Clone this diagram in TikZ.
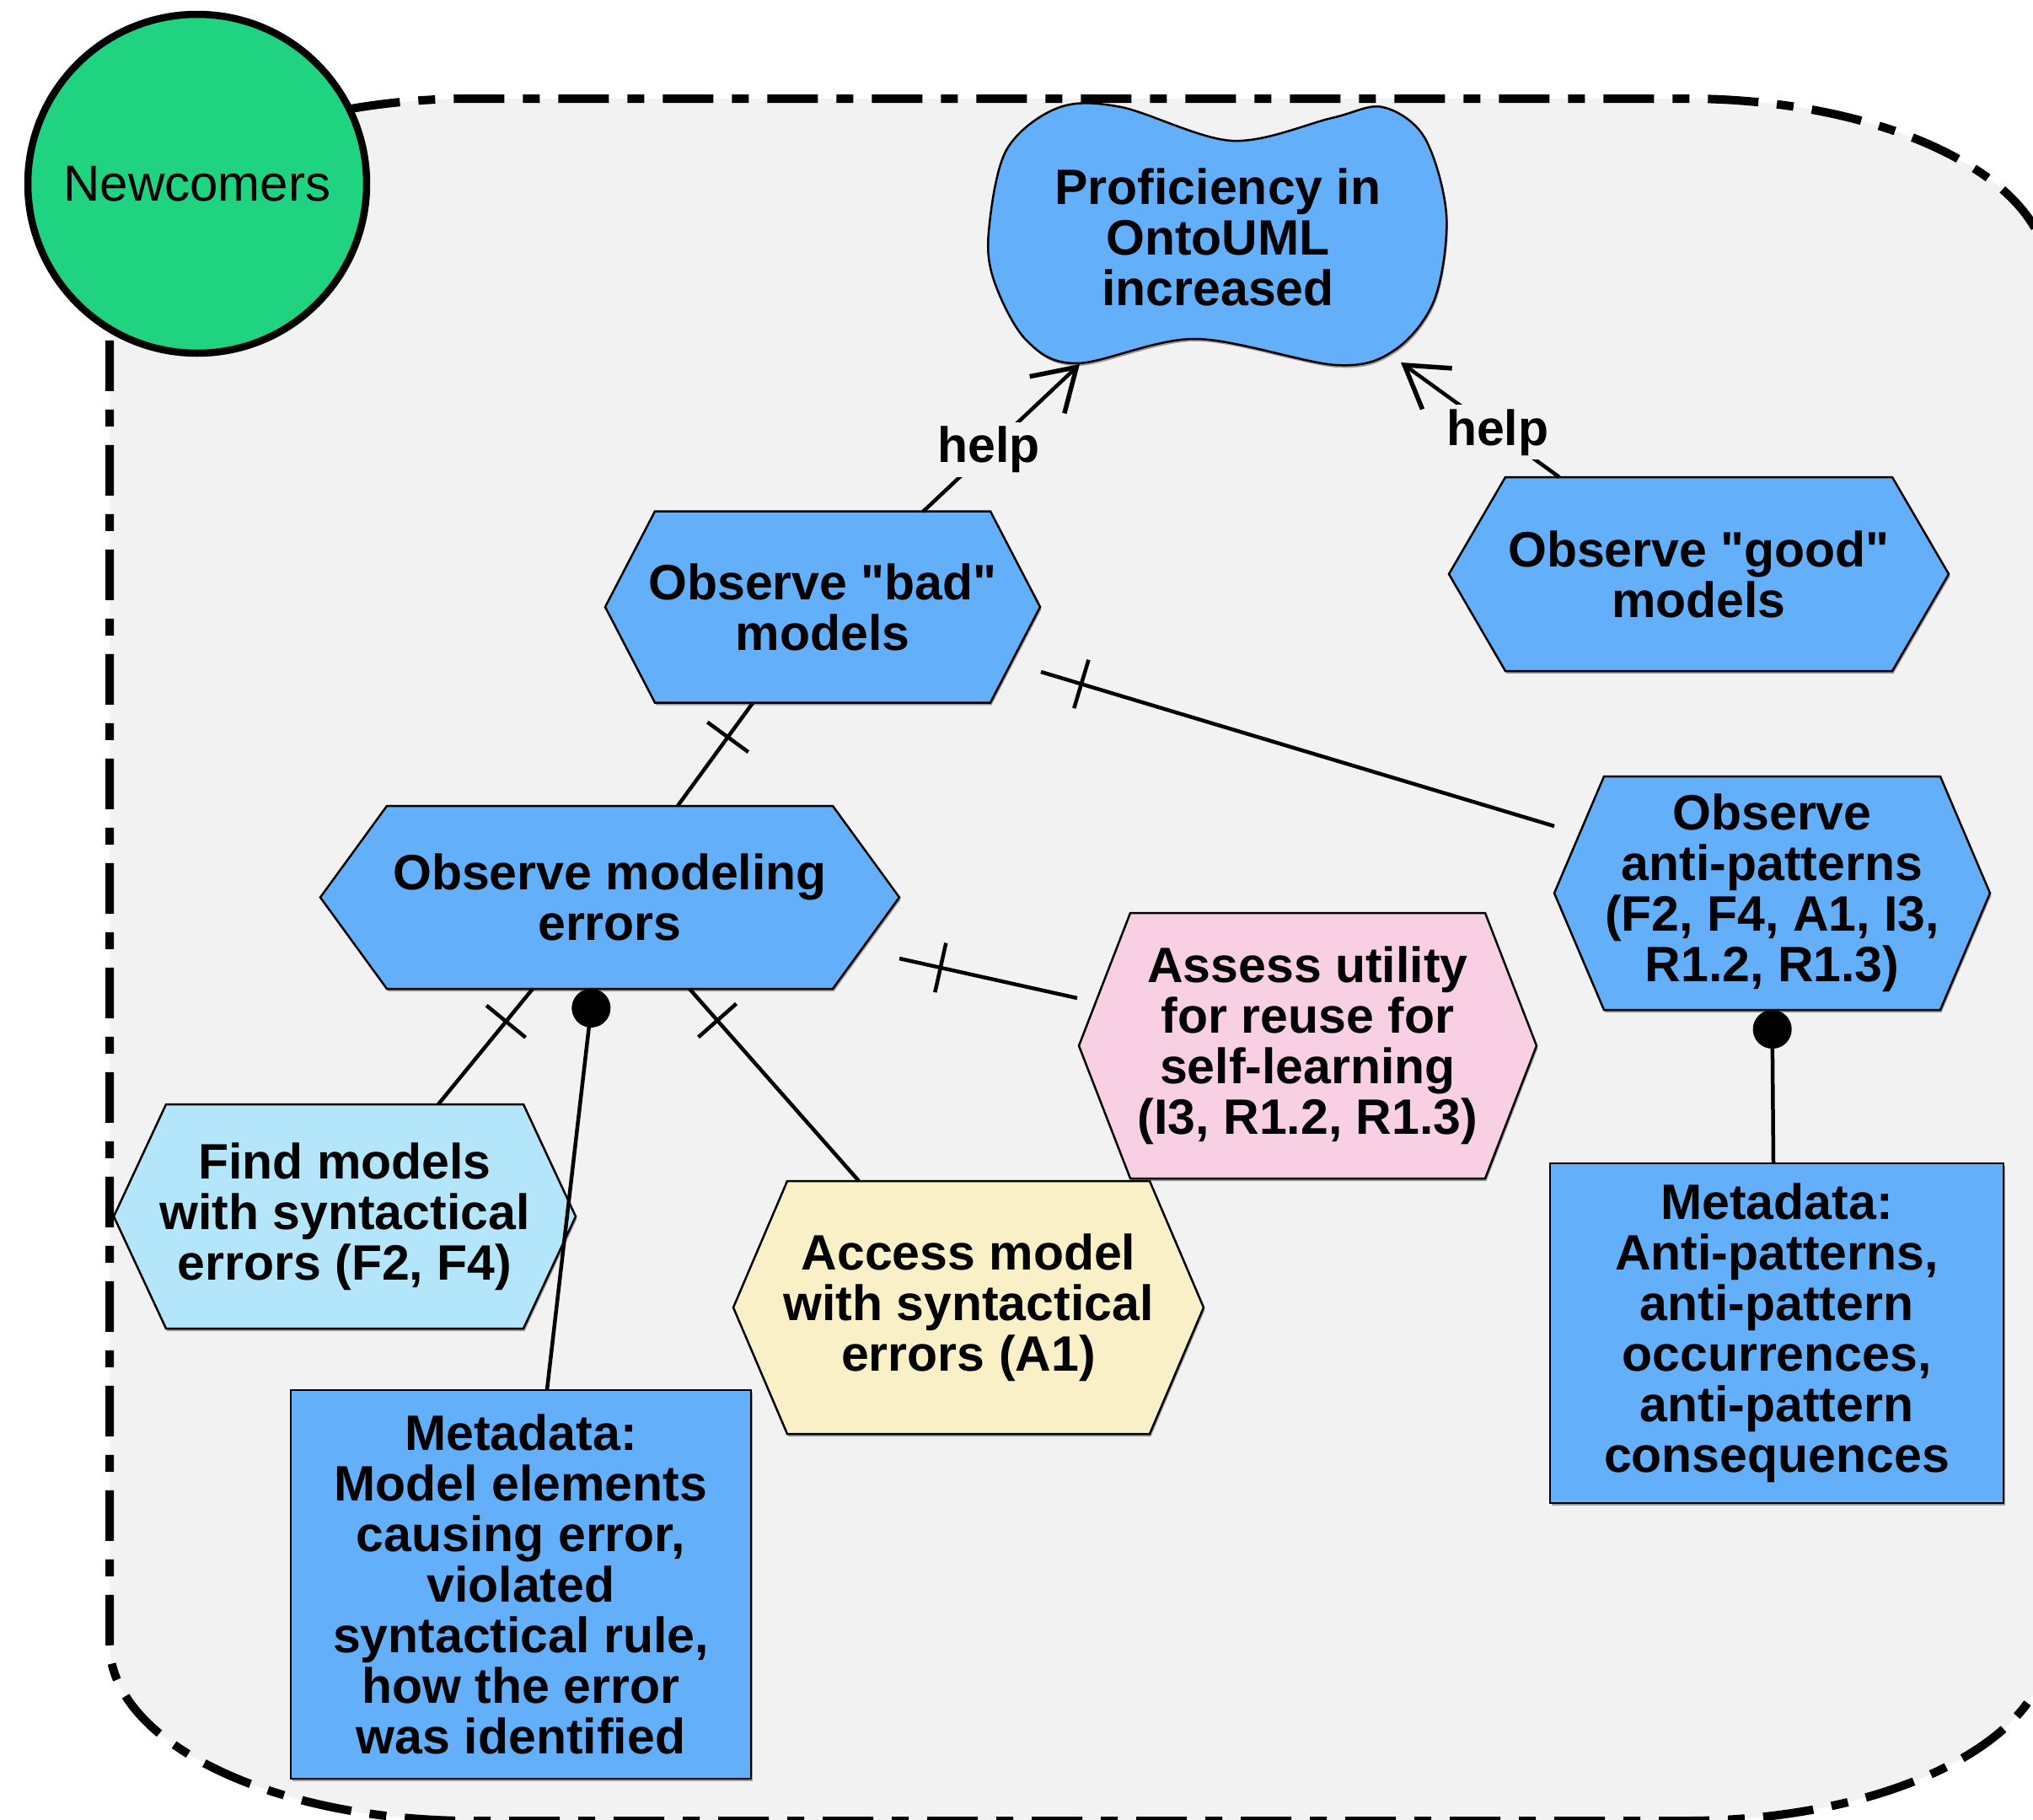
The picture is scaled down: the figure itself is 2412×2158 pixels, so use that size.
\documentclass[tikz,border=0pt]{standalone}
\usepackage{fontspec}
\setmainfont{Liberation Sans}[Ligatures=TeXOff]
\usetikzlibrary{arrows.meta, decorations.markings, shadows}

\definecolor{panelgray}{HTML}{F2F2F2}
\definecolor{crowdgreen}{HTML}{20D381}
\definecolor{goalblue}{HTML}{63AFF9}
\definecolor{paleblue}{HTML}{B3E5FB}
\definecolor{paleyellow}{HTML}{FAF0C8}
\definecolor{palepink}{HTML}{F9CFE4}

\tikzset{
  shapeline/.style={draw=black, line width=2.5pt, line join=miter},
  softshadow/.style={drop shadow={shadow xshift=1.5pt, shadow yshift=-3pt, opacity=0.35, fill=black}},
  boldtxt/.style={align=center, inner sep=0pt, font=\fontsize{59}{60}\selectfont\bfseries},
  conn/.style={draw=black, line width=4.5pt},
  onetick/.style={postaction={decorate},
    decoration={markings, mark=at position 50pt with {\draw[line width=4.5pt] (0pt,-30pt) -- (0pt,30pt);}}},
  dotend/.style={-{Circle[length=46pt,width=46pt]}},
  helparrow/.style={conn, -{Straight Barb[length=48pt,width=60pt,line width=5.5pt]}},
  helplabel/.style={fill=panelgray, inner sep=5pt, font=\fontsize{59}{60}\selectfont\bfseries},
  metabox/.style={rectangle, shapeline, fill=goalblue, softshadow, align=center, inner sep=0pt,
    font=\fontsize{59}{60}\selectfont\bfseries},
}

% hexagon with pointed left/right ends:
% #1 name, #2 cx, #3 cy, #4 half width to the tips, #5 tip inset, #6 half height, #7 fill, #8 text
\newcommand{\hexagonnode}[8]{%
  \draw[shapeline, softshadow, fill=#7]
    ({#2-#4},{#3}) -- ({#2-#4+#5},{#3-#6}) -- ({#2+#4-#5},{#3-#6}) --
    ({#2+#4},{#3}) -- ({#2+#4-#5},{#3+#6}) -- ({#2-#4+#5},{#3+#6}) -- cycle;
  \node[boldtxt] (#1) at (#2,#3) {#8};}

\begin{document}
\begin{tikzpicture}[x=1pt,y=-1pt]
\useasboundingbox (0,0) rectangle (2412,2158);
\clip (0,0) rectangle (2412,2158);
\fill[white] (0,0) rectangle (2412,2158);

% stakeholder boundary: dash-dotted rounded panel
\draw[line width=10pt, fill=panelgray, dash pattern=on 60pt off 22pt on 20pt off 22pt]
  (130,327) .. controls (130,211) and (322.5,117) .. (560,117) -- (2000,117)
  .. controls (2237.5,117) and (2430,211) .. (2430,327) -- (2430,1950)
  .. controls (2430,2066) and (2237.5,2160) .. (2000,2160) -- (560,2160)
  .. controls (322.5,2160) and (130,2066) .. (130,1950) -- cycle;

% actor
\node[circle, draw=black, line width=8.5pt, fill=crowdgreen, minimum size=402pt, inner sep=0pt,
  font=\fontsize{60}{72}\selectfont] (newcomers) at (234,218) {Newcomers};

% soft goal
\draw[shapeline, softshadow, fill=goalblue] plot[smooth cycle, tension=0.55] coordinates {
  (1173,275) (1194,178) (1255,128) (1330,127) (1462,167) (1580,140) (1640,127)
  (1690,163) (1716,255) (1702,355) (1655,415) (1585,433) (1418,402) (1278,431)
  (1218,404) (1180,335)};
\node[boldtxt] (goal) at (1445,281) {Proficiency in\\OntoUML\\increased};
\coordinate (goalL) at (1281,432);
\coordinate (goalR) at (1662,430);

% tasks
\hexagonnode{bad}{976}{720}{258}{59}{113.5}{goalblue}{Observe "bad"\\models}
\hexagonnode{good}{2015.5}{681}{296.5}{67}{115}{goalblue}{Observe "good"\\models}
\hexagonnode{errors}{723.5}{1064.5}{343.5}{79}{108.5}{goalblue}{Observe modeling\\errors}
\hexagonnode{find}{409}{1443}{274}{62}{133}{paleblue}{Find models\\with syntactical\\errors (F2, F4)}
\hexagonnode{access}{1149}{1551}{279}{64}{150}{paleyellow}{Access model\\with syntactical\\errors (A1)}
\hexagonnode{assess}{1551.5}{1240.5}{271.5}{61}{157.5}{palepink}{Assess utility\\for reuse for\\self-learning\\(I3, R1.2, R1.3)}
\hexagonnode{anti}{2102.5}{1059.5}{258.5}{59}{138.5}{goalblue}{Observe\\anti-patterns\\(F2, F4, A1, I3,\\R1.2, R1.3)}

% resources
\node[metabox, minimum width=546pt, minimum height=461pt] (metaL) at (618,1879.5)
  {Metadata:\\Model elements\\causing error,\\violated\\syntactical rule,\\how the error\\was identified};
\node[metabox, minimum width=538pt, minimum height=403pt] (metaR) at (2108,1581.5)
  {Metadata:\\Anti-patterns,\\anti-pattern\\occurrences,\\anti-pattern\\consequences};

% contributions to the goal
\draw[helparrow] ([shift={(119,-113)}]bad.center) -- node[helplabel, pos=0.42] {help} (goalL);
\draw[helparrow] ([shift={(-165.5,-115)}]good.center) -- node[helplabel, pos=0.39] {help} (goalR);

% decompositions
\draw[conn, onetick] ([shift={(-83,114)}]bad.center) -- ([shift={(80.5,-108.5)}]errors.center);
\draw[conn, onetick] ([shift={(259,77)}]bad.center) -- ([shift={(-258.5,-79.5)}]anti.center);
\draw[conn, onetick] ([shift={(343.5,72.5)}]errors.center) -- ([shift={(-273.5,-56.5)}]assess.center);
\draw[conn, onetick] ([shift={(-91.5,108.5)}]errors.center) -- ([shift={(111,-133)}]find.center);
\draw[conn, onetick] ([shift={(94.5,108.5)}]errors.center) -- ([shift={(-130,-150)}]access.center);

% resource links
\draw[conn, dotend] ([shift={(31,-231)}]metaL.center) -- ([shift={(-19.5,108.5)}]errors.center);
\draw[conn, dotend] ([shift={(-4,-201.5)}]metaR.center) -- ([shift={(0,138.5)}]anti.center);
\end{tikzpicture}
\end{document}
